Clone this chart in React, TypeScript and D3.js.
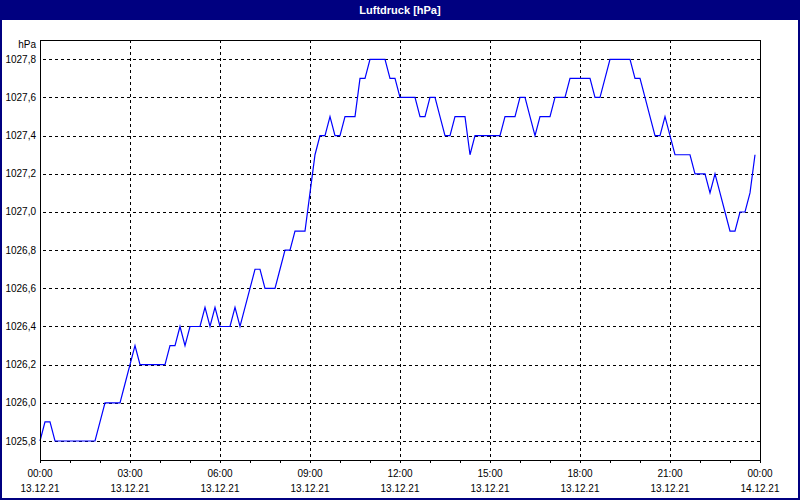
import React from "react";
import * as d3 from "d3";

// Luftdruck readings every 10 minutes, 13.12.21 00:00 .. 23:50
const START = "2021-12-13T00:00:00";
const STEP_MINUTES = 10;
const pressure: number[] = [
  1025.8, 1025.9, 1025.9, 1025.8, 1025.8, 1025.8, 1025.8, 1025.8, 1025.8, 1025.8,
  1025.8, 1025.8, 1025.9, 1026.0, 1026.0, 1026.0, 1026.0, 1026.1, 1026.2, 1026.3,
  1026.2, 1026.2, 1026.2, 1026.2, 1026.2, 1026.2, 1026.3, 1026.3, 1026.4, 1026.3,
  1026.4, 1026.4, 1026.4, 1026.5, 1026.4, 1026.5, 1026.4, 1026.4, 1026.4, 1026.5,
  1026.4, 1026.5, 1026.6, 1026.7, 1026.7, 1026.6, 1026.6, 1026.6, 1026.7, 1026.8,
  1026.8, 1026.9, 1026.9, 1026.9, 1027.1, 1027.3, 1027.4, 1027.4, 1027.5, 1027.4,
  1027.4, 1027.5, 1027.5, 1027.5, 1027.7, 1027.7, 1027.8, 1027.8, 1027.8, 1027.8,
  1027.7, 1027.7, 1027.6, 1027.6, 1027.6, 1027.6, 1027.5, 1027.5, 1027.6, 1027.6,
  1027.5, 1027.4, 1027.4, 1027.5, 1027.5, 1027.5, 1027.3, 1027.4, 1027.4, 1027.4,
  1027.4, 1027.4, 1027.4, 1027.5, 1027.5, 1027.5, 1027.6, 1027.6, 1027.5, 1027.4,
  1027.5, 1027.5, 1027.5, 1027.6, 1027.6, 1027.6, 1027.7, 1027.7, 1027.7, 1027.7,
  1027.7, 1027.6, 1027.6, 1027.7, 1027.8, 1027.8, 1027.8, 1027.8, 1027.8, 1027.7,
  1027.7, 1027.6, 1027.5, 1027.4, 1027.4, 1027.5, 1027.4, 1027.3, 1027.3, 1027.3,
  1027.3, 1027.2, 1027.2, 1027.2, 1027.1, 1027.2, 1027.1, 1027.0, 1026.9, 1026.9,
  1027.0, 1027.0, 1027.1, 1027.3,
];

const yTicks: number[] = [1025.8, 1026.0, 1026.2, 1026.4, 1026.6, 1026.8, 1027.0, 1027.2, 1027.4, 1027.6, 1027.8];
const xTickHours: number[] = [0, 3, 6, 9, 12, 15, 18, 21, 24];
const xTimeLabels: string[] = ["00:00", "03:00", "06:00", "09:00", "12:00", "15:00", "18:00", "21:00", "00:00"];
const xDateLabels: string[] = ["13.12.21", "13.12.21", "13.12.21", "13.12.21", "13.12.21", "13.12.21", "13.12.21", "13.12.21", "14.12.21"];
const minorTickHours: number[] = d3.range(0, 25, 1);

const TITLE = "Luftdruck [hPa]";
const UNIT = "hPa";

const W = 800;
const H = 500;
const L = 40, R = 760, T = 40, B = 460;
const FONT = "'Liberation Sans', Arial, sans-serif";
const NAVY = "#000080";

export default function App() {
  const start = new Date(START);
  const end = d3.timeHour.offset(start, 24);
  const x = d3.scaleTime().domain([start, end]).range([L, R]);
  const y = d3.scaleLinear().domain([1025.8, 1027.8]).range([441, 59.3]);

  const pts = pressure.map((v, i) => ({ t: d3.timeMinute.offset(start, i * STEP_MINUTES), v }));
  const line = d3.line<{ t: Date; v: number }>().x(d => x(d.t)).y(d => y(d.v));
  const fmt = (v: number) => v.toFixed(1).replace(".", ",");

  return (
    <svg width={W} height={H} style={{ position: "absolute", left: 0, top: 0, display: "block" }}>
      <rect x={0} y={0} width={W} height={H} fill="#ffffff" />
      <rect x={1} y={1} width={W - 2} height={H - 2} fill="none" stroke={NAVY} strokeWidth={2} />
      <rect x={0} y={0} width={W} height={20} fill={NAVY} />
      <text x={W / 2} y={14} textAnchor="middle" fill="#ffffff" fontFamily={FONT} fontSize={11} fontWeight="bold">
        {TITLE}
      </text>

      {/* grid */}
      <g stroke="#000" strokeWidth={1} strokeDasharray="3,3" shapeRendering="crispEdges">
        {yTicks.map(t => (
          <line key={"gy" + t} x1={L + 3} x2={R} y1={Math.round(y(t)) + 0.5} y2={Math.round(y(t)) + 0.5} />
        ))}
        {xTickHours.slice(1, -1).map(h => {
          const xx = Math.round(x(d3.timeHour.offset(start, h))) + 0.5;
          return <line key={"gx" + h} x1={xx} x2={xx} y1={T} y2={B} />;
        })}
      </g>

      {/* minor ticks */}
      <g stroke="#000" strokeWidth={1} shapeRendering="crispEdges">
        {minorTickHours.map(h => {
          const xx = Math.round(x(d3.timeHour.offset(start, h))) + 0.5;
          return <line key={"mt" + h} x1={xx} x2={xx} y1={B} y2={B + 3} />;
        })}
      </g>

      {/* data line */}
      <path d={line(pts) || ""} fill="none" stroke="#0000ff" strokeWidth={1.2} strokeLinejoin="miter" />

      {/* plot frame */}
      <rect x={L + 0.5} y={T + 0.5} width={R - L} height={B - T} fill="none" stroke="#000" strokeWidth={1} shapeRendering="crispEdges" />

      {/* y labels */}
      <g fontFamily={FONT} fontSize={10} fill="#000" textAnchor="end">
        <text x={36} y={48}>{UNIT}</text>
        {yTicks.map(t => (
          <text key={"yl" + t} x={36} y={y(t) + 3.5}>{fmt(t)}</text>
        ))}
      </g>

      {/* x labels */}
      <g fontFamily={FONT} fontSize={10} fill="#000" textAnchor="middle">
        {xTickHours.map((h, i) => {
          const xx = x(d3.timeHour.offset(start, h));
          return (
            <g key={"xl" + h}>
              <text x={xx} y={477}>{xTimeLabels[i]}</text>
              <text x={xx} y={492}>{xDateLabels[i]}</text>
            </g>
          );
        })}
      </g>
    </svg>
  );
}
